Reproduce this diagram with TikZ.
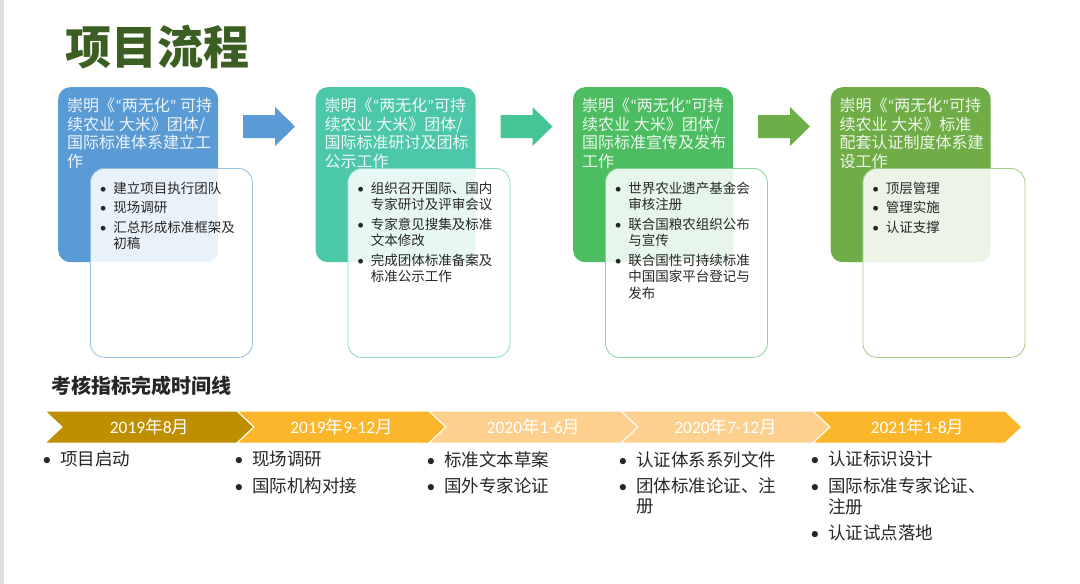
\documentclass[tikz,border=0pt]{standalone}
\usepackage{fontspec}
\setmainfont{Noto Sans CJK SC}
\newfontfamily\carlito{Carlito}
\usepackage{tikz}

\definecolor{titlegreen}{HTML}{3B5E22}
\definecolor{stageblue}{HTML}{5B9BD5}
\definecolor{stageteal}{HTML}{4CC7A8}
\definecolor{stagegreen}{HTML}{4DBD62}
\definecolor{stageolive}{HTML}{70AD47}
\definecolor{arrowteal}{HTML}{45C594}
\definecolor{arrowolive}{HTML}{6CAE48}
\definecolor{goldA}{HTML}{BF8F00}
\definecolor{goldB}{HTML}{FBB62B}
\definecolor{goldC}{HTML}{FDD08E}
\definecolor{textdark}{HTML}{262626}

\newcommand{\yearnum}[1]{{\carlito #1}}
\newcommand{\itemdot}{\makebox[1em][l]{\carlito\char"2022}}
\newcommand{\openq}{{\carlito “}}
\newcommand{\closeq}{{\carlito ”}}

\tikzset{
	stagebox/.style={rounded corners=12pt, inner sep=0pt, minimum width=160pt, minimum height=175pt, anchor=north west},
	detailbox/.style={rounded corners=14pt, fill=white, fill opacity=0.87, line width=0.8pt, inner sep=0pt, minimum width=162pt, minimum height=189pt, anchor=north west},
	stagetext/.style={anchor=north west, align=left, inner sep=0pt, text=white, text opacity=0.9, font=\fontsize{16}{18.5}\selectfont},
	detailtext/.style={anchor=north west, inner sep=0pt, text=textdark, font=\fontsize{13.5}{16.5}\selectfont},
	phase/.style={draw=white, line width=1pt},
	phasetext/.style={inner sep=0pt, text=white, font=\fontsize{17.5}{20}\selectfont},
	itemtext/.style={anchor=north west, inner sep=0pt, text=textdark, font=\fontsize{17.5}{20.5}\selectfont}
}

\begin{document}
\begin{tikzpicture}[x=1pt, y=-1pt]
		
		\useasboundingbox (0,0) rectangle (1080,584);
		\fill[black!12] (0,0) rectangle (4,584);
		
		% Headings
		\node[font=\fontsize{46}{50}\selectfont\bfseries, text=titlegreen, anchor=west, inner sep=0pt] (title) at (65,47.5) {项目流程};
		\node[font=\fontsize{20}{24}\selectfont\bfseries, text=textdark, anchor=west, inner sep=0pt] (timeline) at (51,385.5) {考核指标完成时间线};
		
		% Draw the stage boxes
		\node[stagebox, fill=stageblue] (stage1) at (58,87) {};
		\node[stagebox, fill=stageteal] (stage2) at (315.5,87) {};
		\node[stagebox, fill=stagegreen] (stage3) at (573,87) {};
		\node[stagebox, fill=stageolive] (stage4) at (830.5,87) {};
		
		\node[stagetext] (head1) at (67,98) {崇明《\openq 两无化\closeq\ 可持\\续农业 大米》团体/\\国际标准体系建立工\\作};
		\node[stagetext] (head2) at (324.5,98) {崇明《\openq 两无化\closeq 可持\\续农业 大米》团体/\\国际标准研讨及团标\\公示工作};
		\node[stagetext] (head3) at (582,98) {崇明《\openq 两无化\closeq 可持\\续农业 大米》团体/\\国际标准宣传及发布\\工作};
		\node[stagetext] (head4) at (839.5,98) {崇明《\openq 两无化\closeq 可持\\续农业 大米》标准\\配套认证制度体系建\\设工作};
		
		% Draw the detail boxes on top
		\node[detailbox, draw=stageblue!65] (detail1) at (90,168) {};
		\node[detailbox, draw=stageteal!65] (detail2) at (347.5,168) {};
		\node[detailbox, draw=stagegreen!65] (detail3) at (605,168) {};
		\node[detailbox, draw=stageolive!65] (detail4) at (862.5,168) {};
		
		\node[detailtext] (list1) at (99.6,181.5) {\begin{tabular}{@{}l@{}l@{}}
				\itemdot & 建立项目执行团队\\[3pt]
				\itemdot & 现场调研\\[3pt]
				\itemdot & 汇总形成标准框架及\\
				& 初稿
			\end{tabular}};
		\node[detailtext] (list2) at (357.1,181.5) {\begin{tabular}{@{}l@{}l@{}}
				\itemdot & 组织召开国际、国内\\
				& 专家研讨及评审会议\\[3pt]
				\itemdot & 专家意见搜集及标准\\
				& 文本修改\\[3pt]
				\itemdot & 完成团体标准备案及\\
				& 标准公示工作
			\end{tabular}};
		\node[detailtext] (list3) at (614.6,181.5) {\begin{tabular}{@{}l@{}l@{}}
				\itemdot & 世界农业遗产基金会\\
				& 审核注册\\[3pt]
				\itemdot & 联合国粮农组织公布\\
				& 与宣传\\[3pt]
				\itemdot & 联合国性可持续标准\\
				& 中国国家平台登记与\\
				& 发布
			\end{tabular}};
		\node[detailtext] (list4) at (872.1,181.5) {\begin{tabular}{@{}l@{}l@{}}
				\itemdot & 顶层管理\\[3pt]
				\itemdot & 管理实施\\[3pt]
				\itemdot & 认证支撑
			\end{tabular}};
		
		% Draw the block arrows between the stages
		\coordinate (arrow1) at (243,126.5);
		\coordinate (arrow2) at (500.5,126.5);
		\coordinate (arrow3) at (758,126.5);
		\fill[stageblue] (arrow1) ++(0,-11.5) -- ++(32,0) -- ++(0,-8) -- ++(20,19.5) -- ++(-20,19.5) -- ++(0,-8) -- ++(-32,0) -- cycle;
		\fill[arrowteal] (arrow2) ++(0,-11.5) -- ++(32,0) -- ++(0,-8) -- ++(20,19.5) -- ++(-20,19.5) -- ++(0,-8) -- ++(-32,0) -- cycle;
		\fill[arrowolive] (arrow3) ++(0,-11.5) -- ++(32,0) -- ++(0,-8) -- ++(20,19.5) -- ++(-20,19.5) -- ++(0,-8) -- ++(-32,0) -- cycle;
		
		% Draw the timeline chevrons
		\fill[phase, fill=goldA] (45,411) -- ++(192,0) -- ++(17,16) -- ++(-17,16) -- ++(-192,0) -- ++(17,-16) -- cycle;
		\fill[phase, fill=goldB] (237,411) -- ++(192,0) -- ++(17,16) -- ++(-17,16) -- ++(-192,0) -- ++(17,-16) -- cycle;
		\fill[phase, fill=goldC] (429,411) -- ++(192,0) -- ++(17,16) -- ++(-17,16) -- ++(-192,0) -- ++(17,-16) -- cycle;
		\fill[phase, fill=goldC] (621,411) -- ++(192,0) -- ++(17,16) -- ++(-17,16) -- ++(-192,0) -- ++(17,-16) -- cycle;
		\fill[phase, fill=goldB] (813,411) -- ++(192,0) -- ++(17,16) -- ++(-17,16) -- ++(-192,0) -- ++(17,-16) -- cycle;
		
		\node[phasetext] (phase1) at (149.5,427) {\yearnum{2019}年\yearnum{8}月};
		\node[phasetext] (phase2) at (341.5,427) {\yearnum{2019}年\yearnum{9-12}月};
		\node[phasetext] (phase3) at (533.5,427) {\yearnum{2020}年\yearnum{1-6}月};
		\node[phasetext] (phase4) at (725.5,427) {\yearnum{2020}年\yearnum{7-12}月};
		\node[phasetext] (phase5) at (917.5,427) {\yearnum{2021}年\yearnum{1-8}月};
		
		% Timeline items
		\node[itemtext] (item1) at (42.5,451) {\begin{tabular}{@{}l@{}l@{}}
				\itemdot & 项目启动
			\end{tabular}};
		\node[itemtext] (item2) at (234.5,451) {\begin{tabular}{@{}l@{}l@{}}
				\itemdot & 现场调研\\[5.5pt]
				\itemdot & 国际机构对接
			\end{tabular}};
		\node[itemtext] (item3) at (426.5,451) {\begin{tabular}{@{}l@{}l@{}}
				\itemdot & 标准文本草案\\[5.5pt]
				\itemdot & 国外专家论证
			\end{tabular}};
		\node[itemtext] (item4) at (618.5,451) {\begin{tabular}{@{}l@{}l@{}}
				\itemdot & 认证体系系列文件\\[5.5pt]
				\itemdot & 团体标准论证、注\\
				& 册
			\end{tabular}};
		\node[itemtext] (item5) at (810.5,451) {\begin{tabular}{@{}l@{}l@{}}
				\itemdot & 认证标识设计\\[5.5pt]
				\itemdot & 国际标准专家论证、\\
				& 注册\\[5.5pt]
				\itemdot & 认证试点落地
			\end{tabular}};
		
	\end{tikzpicture}
\end{document}
